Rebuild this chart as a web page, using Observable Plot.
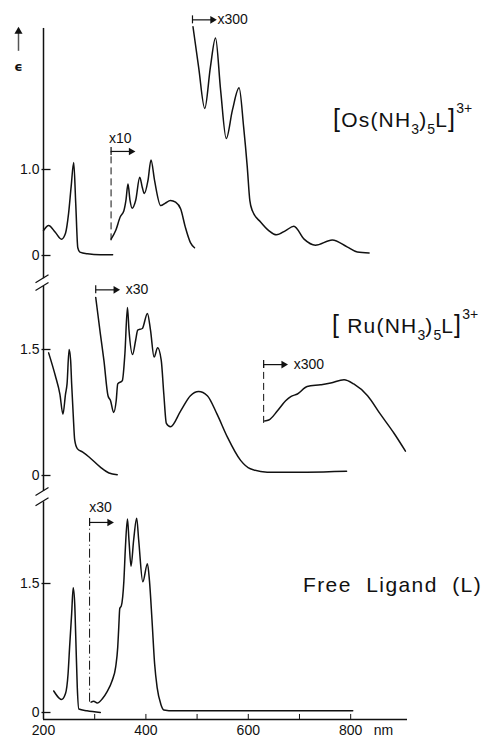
<!DOCTYPE html>
<html><head><meta charset="utf-8">
<script src="https://cdn.jsdelivr.net/npm/d3@7"></script>
<script src="https://cdn.jsdelivr.net/npm/@observablehq/plot@0.6"></script>
<style>
html,body{margin:0;padding:0;background:#fff;}
#chart{position:relative;width:485px;height:738px;overflow:hidden;font-family:"Liberation Sans",Arial,sans-serif;color:#111;}
#chart svg{position:absolute;left:0;top:0;}
.lab{position:absolute;font-size:21px;line-height:1;white-space:pre;letter-spacing:1.2px;}
.lab .br{font-size:25px;}
.lab sub{font-size:14px;vertical-align:-7px;line-height:0;letter-spacing:0;}
.lab sup{font-size:14px;vertical-align:14px;line-height:0;letter-spacing:0;}
</style></head><body><div id="chart"></div>
<script>
// ---- Data (wavelength in nm, displayed epsilon units per panel) ----
const osMainNm  = [200,210,223,235,243,249,254,259,263,267,271,286,311,335];
const osMainEps = [0.29,0.35,0.27,0.19,0.26,0.49,0.80,1.08,0.60,0.09,0.04,0.02,0.01,0.01];
const osX10Nm   = [332,341,350,357,361,365,369,373,380,388,393,397,404,410,417,429,438,448,458,468,477,487,495];
const osX10Eps  = [0.19,0.29,0.45,0.52,0.64,0.83,0.64,0.55,0.64,0.91,0.79,0.72,0.87,1.11,0.87,0.58,0.61,0.64,0.62,0.54,0.33,0.15,0.09];
const osX300Nm  = [492,503,515,526,536,546,557,569,582,591,598,603,608,624,640,655,673,689,709,731,764,793,813,836];
const osX300Eps = [2.66,2.19,1.71,2.19,2.53,1.92,1.36,1.69,1.95,1.49,1.03,0.64,0.52,0.39,0.29,0.24,0.29,0.34,0.19,0.12,0.18,0.10,0.04,0.03];

const ruMainNm  = [210,223,232,238,243,246,250,253,255,258,261,266,276,289,311,328,344];
const ruMainEps = [1.46,1.19,0.97,0.73,0.97,1.09,1.50,1.37,1.09,0.73,0.42,0.32,0.28,0.22,0.10,0.03,0.01];
const ruX30Nm   = [302,311,318,326,331,337,342,345,354,359,364,367,374,380,384,393,403,409,416,423,430,435,440,448,468,487,503,520,539,559,585,604,637,715,792];
const ruX30Eps  = [2.12,1.69,1.37,0.95,0.89,0.75,0.89,1.09,1.13,1.45,2.00,1.73,1.44,1.61,1.73,1.75,1.93,1.73,1.41,1.52,1.37,0.97,0.62,0.58,0.77,0.95,1.00,0.95,0.73,0.46,0.18,0.08,0.04,0.04,0.05];
const ruX300Nm  = [632,640,657,673,683,696,715,741,761,787,806,833,858,885,907];
const ruX300Eps = [0.65,0.66,0.77,0.89,0.94,0.97,1.06,1.08,1.10,1.14,1.09,0.95,0.73,0.50,0.29];

const ligMainNm  = [220,230,235,243,248,251,255,258,261,263,266,269,285,311];
const ligMainEps = [0.25,0.17,0.15,0.22,0.45,0.76,1.15,1.45,1.26,0.88,0.29,0.04,0.02,0.00];
const ligX30Nm   = [293,298,305,315,324,334,341,345,347,349,352,357,360,364,367,371,376,382,386,394,403,407,412,417,422,429,435,455,804];
const ligX30Eps  = [0.12,0.13,0.11,0.16,0.24,0.37,0.53,0.76,0.99,1.21,1.24,1.53,1.92,2.25,2.00,1.70,2.00,2.26,2.00,1.52,1.73,1.53,1.07,0.57,0.29,0.10,0.03,0.02,0.02];

// multiplier annotations: factor and the wavelength where the scaled trace begins
const multLabels  = ["x10","x300","x30","x300","x30"];
const multStartNm = [332, 491, 302, 630, 290];

const xTicks      = [200,300,400,500,600,700,800];
const xTickLabels = ["200","","400","","600","","800"];
const osYTicks  = [0, 1.0], osYLabels  = ["0","1.0"];
const ruYTicks  = [0, 1.5], ruYLabels  = ["0","1.5"];
const ligYTicks = [0, 1.5], ligYLabels = ["0","1.5"];

// ---- Drawing ----
const INK = "#111";
const FONT = "'Liberation Sans', Arial, sans-serif";
const X = {domain:[200, 911], range:[43, 407]};
const nmPerPx = (X.domain[1]-X.domain[0])/(X.range[1]-X.range[0]);
const pts = (a,b) => a.map((v,i)=>({nm:v, e:b[i]}));

function panel(cfg){
  const k = (cfg.yRange[0]-cfg.yRange[1])/(cfg.yDomain[1]-cfg.yDomain[0]);
  const u = p => p/k;           // px -> y units
  const xn = p => p*nmPerPx;    // px -> nm
  const marks = [];
  // y axis line and breaks
  marks.push(Plot.ruleX([200], {y1: cfg.axisBottom, y2: cfg.axisTop, stroke: INK, strokeWidth: 1.5}));
  marks.push(Plot.link(cfg.breaks, {x1: 200 - xn(8), x2: 200 + xn(5), y1: d => d - u(4), y2: d => d + u(4), stroke: INK, strokeWidth: 1.3}));
  // y ticks + labels
  marks.push(Plot.link(cfg.yTicks, {x1: 200 - xn(2), x2: 200 + xn(7), y1: d => d, y2: d => d, stroke: INK, strokeWidth: 1.3}));
  marks.push(Plot.text(cfg.yTicks, {x: 200, y: d => d, text: (d,i) => cfg.yLabels[i], dx: -4, textAnchor: "end", fontSize: 14, fill: INK}));
  // spectra
  for (const c of cfg.curves)
    marks.push(Plot.line(c, {x: "nm", y: "e", curve: "monotone-x", stroke: INK, strokeWidth: 1.5, strokeLinejoin: "round"}));
  // multiplier annotations
  for (const m of cfg.mults){
    const s = multStartNm[m.i], e = s + xn(m.len || 22);
    if (m.dashTo !== undefined)
      marks.push(Plot.ruleX([s], {y1: m.dashTo, y2: m.ay, stroke: INK, strokeWidth: 1, strokeDasharray: m.dash || "7,4"}));
    marks.push(Plot.ruleX([s], {y1: m.ay - u(4), y2: m.ay + u(4), stroke: INK, strokeWidth: 1.2}));
    marks.push(Plot.link([m], {x1: s, x2: e - xn(3), y1: m.ay, y2: m.ay, stroke: INK, strokeWidth: 1.2}));
    marks.push(Plot.dot([m], {x: e - xn(2), y: m.ay, symbol: "triangle", r: 2.8, rotate: 90, fill: INK, stroke: null}));
    marks.push(Plot.text([m], {x: s + xn(m.ldx), y: m.ay + u(m.ldyPx || 0), text: () => multLabels[m.i], textAnchor: m.anchor || "start", fontSize: 14, fill: INK}));
  }
  if (cfg.extra) marks.push(...cfg.extra(u, xn));
  return Plot.plot({
    width: 485, height: 738, margin: 0,
    x: {...X, axis: null},
    y: {domain: cfg.yDomain, range: cfg.yRange, axis: null},
    style: {background: "transparent", fontFamily: FONT, overflow: "visible"},
    marks
  });
}

const chart = document.getElementById("chart");

chart.append(panel({
  yDomain: [0, 1], yRange: [255, 169],
  axisTop: 2.64, axisBottom: -0.27, breaks: [-0.27],
  yTicks: osYTicks, yLabels: osYLabels,
  curves: [pts(osMainNm, osMainEps), pts(osX10Nm, osX10Eps), pts(osX300Nm, osX300Eps)],
  mults: [
    {i: 0, ay: 1.21, dashTo: 0.17, ldx: -2, ldyPx: 13},
    {i: 1, ay: 2.74, ldx: 25}
  ],
  extra: (u, xn) => [
    Plot.link([0], {x1: 200 - xn(25), x2: 200 - xn(25), y1: 2.38, y2: 2.64 - u(4), stroke: "#555", strokeWidth: 1.5}),
    Plot.dot([0], {x: 200 - xn(25), y: 2.64 - u(3), symbol: "triangle", r: 3, fill: INK, stroke: null}),
    Plot.text(["\u03F5"], {x: 200 - xn(25), y: 2.19, text: d => d, fontSize: 13, fontWeight: "bold", fontFamily: "DejaVu Sans", fill: INK})
  ]
}));

chart.append(panel({
  yDomain: [0, 1.5], yRange: [475, 349],
  axisTop: 2.25, axisBottom: -0.19, breaks: [2.25, -0.19],
  yTicks: ruYTicks, yLabels: ruYLabels,
  curves: [pts(ruMainNm, ruMainEps), pts(ruX30Nm, ruX30Eps), pts(ruX300Nm, ruX300Eps)],
  mults: [
    {i: 2, ay: 2.21, ldx: 30},
    {i: 3, ay: 1.32, dashTo: 0.62, ldx: 30}
  ]
}));

chart.append(panel({
  yDomain: [0, 1.5], yRange: [712, 583],
  axisTop: 2.45, axisBottom: -0.081, breaks: [2.45],
  yTicks: ligYTicks, yLabels: ligYLabels,
  curves: [pts(ligMainNm, ligMainEps), pts(ligX30Nm, ligX30Eps)],
  mults: [
    {i: 4, ay: 2.21, dashTo: 0.12, dash: "9,3,1,3", ldx: 11, ldyPx: 15, anchor: "middle"}
  ],
  extra: (u, xn) => [
    Plot.ruleY([-0.081], {x1: 200, x2: 911, stroke: INK, strokeWidth: 1.5}),
    Plot.ruleX(xTicks, {y1: -0.081, y2: -0.081 + u(5), stroke: INK, strokeWidth: 1}),
    Plot.text(xTicks, {x: d => d, y: -0.081, dy: 11, text: (d,i) => xTickLabels[i], fontSize: 14, fill: INK}),
    Plot.text(["nm"], {x: 800, y: -0.081, dy: 11, dx: 23, text: d => d, textAnchor: "start", fontSize: 14, fill: INK})
  ]
}));

function addLabel(html, left, top, extraStyle){
  const d = document.createElement("div");
  d.className = "lab"; d.style.left = left + "px"; d.style.top = top + "px";
  if (extraStyle) Object.assign(d.style, extraStyle);
  d.innerHTML = html; chart.append(d);
}
addLabel('<span class="br">[</span>Os(NH<sub>3</sub>)<sub>5</sub>L<span class="br">]</span><sup>3+</sup>', 333, 106);
addLabel('<span class="br">[</span> Ru(NH<sub>3</sub>)<sub>5</sub>L<span class="br">]</span><sup>3+</sup>', 332, 312);
addLabel('Free  Ligand  (L)', 303, 574, {letterSpacing: "1.4px"});
</script></body></html>
